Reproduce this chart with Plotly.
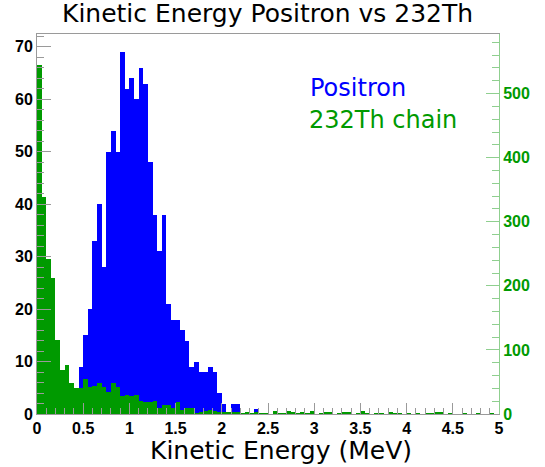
import plotly.graph_objects as go

# ---- data (bins of 0.05 MeV, 0..5 MeV) ----
bin_width = 0.05
positron_counts = [0, 0, 0, 0, 0, 0, 1, 1, 3, 9,
                   15, 20, 33, 40, 28, 50, 54, 50, 69, 62,
                   64, 60, 66, 63, 48, 38, 31, 38, 21, 18,
                   18, 16, 14, 9, 10, 8, 8, 9, 8, 4,
                   2, 0, 2, 2, 0, 0, 0, 1, 0, 0,
                   0, 0, 0, 0, 0, 0, 0, 0, 0, 0,
                   0, 0, 0, 0, 0, 0, 0, 0, 0, 0,
                   0, 0, 0, 0, 0, 0, 0, 0, 0, 0,
                   0, 0, 0, 0, 0, 0, 0, 0, 0, 0,
                   0, 0, 0, 0, 0, 0, 0, 0, 0, 0]
th232_counts = [544, 338, 242, 212, 115, 68, 77, 48, 40, 40,
                54, 42, 43, 48, 42, 35, 48, 42, 28, 30,
                28, 30, 21, 19, 19, 21, 9, 14, 14, 10,
                18, 6, 9, 9, 1, 2, 4, 7, 4, 2,
                2, 3, 2, 2, 1, 2, 1, 3, 1, 1,
                0, 4, 1, 1, 4, 2, 1, 3, 1, 4,
                0, 1, 3, 3, 0, 1, 3, 2, 0, 1,
                4, 1, 0, 1, 1, 0, 3, 1, 1, 0,
                1, 0, 1, 0, 1, 1, 3, 3, 0, 1,
                0, 0, 1, 0, 0, 1, 0, 0, 1, 0]
bin_left = [i * bin_width for i in range(len(positron_counts))]
x_tickvals = [0, 0.5, 1, 1.5, 2, 2.5, 3, 3.5, 4, 4.5, 5]
x_ticktext = ["0", "0.5", "1", "1.5", "2", "2.5", "3", "3.5", "4", "4.5", "5"]
left_range = [0, 72.45]
right_range = [0, 593]

BLUE = "#0000ff"
GREEN = "#009a00"
GREY = "#9a9a9a"
LGREEN = "#8fcf8f"

fig = go.Figure()
fig.add_trace(go.Bar(x=bin_left, y=positron_counts, width=bin_width, offset=0,
                     marker=dict(color=BLUE, line=dict(width=0)), yaxis="y",
                     name="Positron"))
fig.add_trace(go.Bar(x=bin_left, y=th232_counts, width=bin_width, offset=0,
                     marker=dict(color=GREEN, line=dict(width=0)), yaxis="y2",
                     name="232Th chain"))

tickfont = dict(family="Liberation Sans", size=16, color="black", weight="bold")

fig.update_layout(
    width=545, height=467,
    margin=dict(l=37, r=46, t=34, b=53, autoexpand=False),
    paper_bgcolor="white", plot_bgcolor="white",
    barmode="overlay", bargap=0, showlegend=False,
    xaxis=dict(range=[0, 5], tickvals=x_tickvals, ticktext=x_ticktext,
               ticks="inside", ticklen=11, tickcolor=GREY, tickwidth=1,
               minor=dict(dtick=0.1, ticklen=6, tickcolor=GREY, ticks="inside"),
               showline=True, linecolor=GREY, linewidth=1, mirror=True,
               showgrid=False, zeroline=False, tickfont=tickfont, automargin=False),
    yaxis=dict(range=left_range, dtick=10, tick0=0,
               ticks="inside", ticklen=14, tickcolor=GREY,
               minor=dict(dtick=2, ticklen=7, tickcolor=GREY, ticks="inside"),
               showline=True, linecolor=GREY, linewidth=1,
               showgrid=False, zeroline=False, tickfont=tickfont, automargin=False),
    yaxis2=dict(range=right_range, dtick=100, tick0=0, overlaying="y", side="right",
                ticks="inside", ticklen=13, tickcolor=LGREEN,
                minor=dict(dtick=20, ticklen=7, tickcolor=LGREEN, ticks="inside"),
                showline=True, linecolor=LGREEN, linewidth=1,
                showgrid=False, zeroline=False, automargin=False,
                tickfont=dict(family="Liberation Sans", size=16, color=GREEN, weight="bold")),
    annotations=[
        dict(text="Kinetic Energy Positron vs 232Th", x=0.498, y=1.054, xref="paper", yref="paper",
             xanchor="center", yanchor="middle", showarrow=False,
             font=dict(family="DejaVu Sans", size=25, color="black")),
        dict(text="Kinetic Energy (MeV)", x=0.528, y=-0.097, xref="paper", yref="paper",
             xanchor="center", yanchor="middle", showarrow=False,
             font=dict(family="DejaVu Sans", size=25, color="black")),
        dict(text="Positron", x=0.5866, y=0.857, xref="paper", yref="paper",
             xanchor="left", yanchor="middle", showarrow=False,
             font=dict(family="DejaVu Sans", size=24, color=BLUE)),
        dict(text="232Th chain", x=0.5844, y=0.773, xref="paper", yref="paper",
             xanchor="left", yanchor="middle", showarrow=False,
             font=dict(family="DejaVu Sans", size=24, color=GREEN)),
    ],
)

fig.write_html("out.html", config={"displayModeBar": False},
               post_script="document.body.style.margin='0';")
